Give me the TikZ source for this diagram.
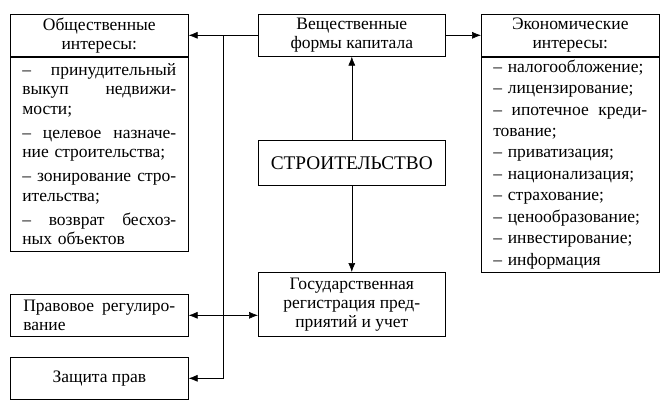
\documentclass[tikz,border=0pt]{standalone}
\usepackage{fontspec}
\setmainfont{Liberation Serif}
\usepackage{tikz}
\usetikzlibrary{positioning, arrows.meta}

% justified line of a list
\newcommand{\jline}[1]{{\spaceskip=0.25em plus 1fil\relax\makebox[\hsize][s]{#1}}}

\begin{document}
\begin{tikzpicture}[
    x=1pt, y=-1pt,
    pole/.style={rectangle, draw, line width=0.6pt, anchor=north west, inner sep=0pt,
      align=center, font=\fontsize{17.5}{19}\selectfont},
    spisok/.style={pole, align=left, inner xsep=12pt, inner ysep=0pt,
      font=\fontsize{17.5}{19.5}\selectfont},
    >={Latex[length=9pt,width=7pt]}, line width=0.6pt
    ]
    \useasboundingbox (0,0) rectangle (665,416);
    % upper row
    \node [pole, minimum width=178pt, minimum height=42pt] (obshhead) at (10,14) {Общественные\\ интересы:};
    \node [spisok, text width=154pt, minimum height=194pt, below=0pt of obshhead] (obshlist) {%
      \jline{– принудительный}\\ \jline{выкуп недвижи-}\\ мости;\\[4.5pt]
      \jline{– целевое назначе-}\\ ние строительства;\\[4.5pt]
      \jline{– зонирование стро-}\\ ительства;\\[4.5pt]
      \jline{– возврат бесхоз-}\\ ных объектов};
    \node [pole, minimum width=187pt, minimum height=42pt] (vesh) at (258,14) {Вещественные\\ формы капитала};
    \node [pole, minimum width=178pt, minimum height=42pt] (econhead) at (481,14) {Экономические\\ интересы:};
    \node [spisok, text width=154pt, minimum height=215pt, below=0pt of econhead] (econlist) {%
      – налогообложение;\\[2pt] – лицензирование;\\[2pt]
      \jline{– ипотечное креди-}\\[1.5pt] тование;\\[2pt]
      – приватизация;\\[2pt] – национализация;\\[2pt] – страхование;\\[2pt]
      – ценообразование;\\[2pt] – инвестирование;\\[2pt] – информация};
    % middle
    \node [pole, minimum width=187pt, minimum height=45pt, font=\fontsize{19.3}{22}\selectfont] (stroit) at (258,140) {СТРОИТЕЛЬСТВО};
    \node [pole, minimum width=187pt, minimum height=64pt] (gos) at (258,272) {Государственная\\ регистрация пред-\\ приятий и учет};
    % lower left
    \node [pole, inner xsep=13pt, text width=152pt, minimum height=42pt, align=left] (pravo) at (10,294) {\jline{Правовое регулиро-}\\ вание};
    \node [pole, minimum width=178pt, minimum height=42pt] (zash) at (10,357) {Защита прав};
    % connectors
    \coordinate (verh) at (223,35);
    \draw [->] (vesh.west) -- (obshhead.east);
    \draw [->] (vesh.east) -- (econhead.west);
    \draw [->] (stroit) -- (vesh);
    \draw [->] (stroit) -- (gos);
    \draw [->] (verh) |- (zash.east);
    \draw [<->] (pravo.east) -- (pravo.east -| gos.west);
\end{tikzpicture}
\end{document}
